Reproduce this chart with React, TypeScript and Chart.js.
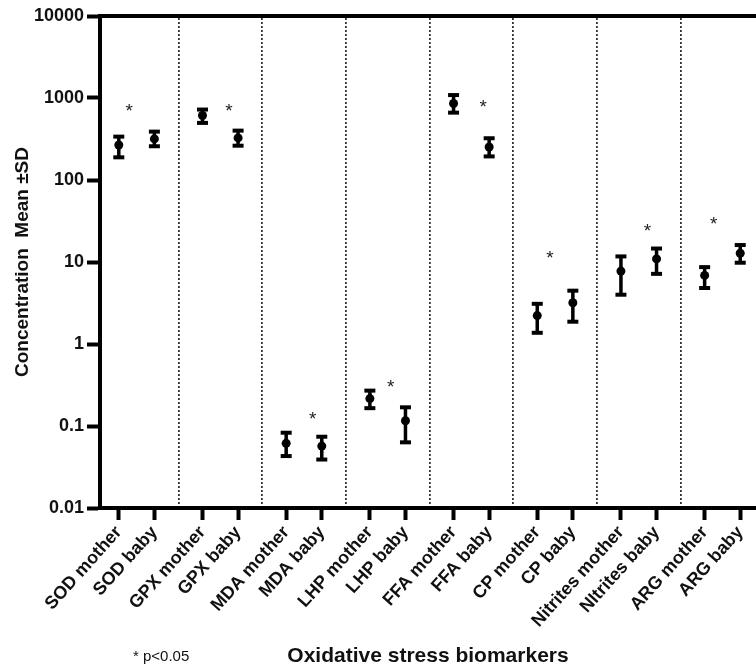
import React, { useEffect, useRef } from 'react';
import { Chart, registerables } from 'chart.js';

Chart.register(...registerables);

// ---- data ----
const CATEGORIES = [
  'SOD mother', 'SOD baby',
  'GPX mother', 'GPX baby',
  'MDA mother', 'MDA baby',
  'LHP mother', 'LHP baby',
  'FFA mother', 'FFA baby',
  'CP mother', 'CP baby',
  'Nitrites mother', 'NItrites baby',
  'ARG mother', 'ARG baby',
];
const MEANS = [267, 317, 611, 326, 0.0614, 0.0569, 0.216, 0.116, 857, 253, 2.22, 3.18, 7.74, 10.9, 6.86, 12.8];
const LOWER = [189, 258, 497, 262, 0.043, 0.039, 0.165, 0.0632, 663, 194, 1.37, 1.87, 3.99, 7.17, 4.82, 9.8];
const UPPER = [338, 389, 723, 400, 0.0828, 0.074, 0.27, 0.169, 1086, 323, 3.09, 4.47, 11.7, 14.6, 8.66, 16.1];

// significance stars (one per biomarker pair)
const STAR_VALUES = [752, 752, 0.132, 0.327, 857, 12.4, 26, 31.4];
const STAR_OFFSETS = [0.295, 0.745, 0.745, 0.585, 0.832, 0.357, 0.745, 0.254];

const Y_TICKS = [0.01, 0.1, 1, 10, 100, 1000, 10000];
const Y_TICK_LABELS = ['0.01', '0.1', '1', '10', '100', '1000', '10000'];
const Y_TITLE = 'Concentration  Mean \u00B1SD';
const X_TITLE = 'Oxidative stress biomarkers';
const FOOTNOTE = '* p<0.05';

// ---- layout helpers ----
const WIDTH = 756;
const HEIGHT = 667;
const PAIR_STRIDE = 2.351;
const X_MIN = -0.528;
const X_MAX = 17.9;
const FONT = '"Liberation Sans", Arial, Helvetica, sans-serif';

const posOf = (i: number) => Math.floor(i / 2) * PAIR_STRIDE + (i % 2);
const X_POS = CATEGORIES.map((_, i) => posOf(i));
const GROUP_COUNT = CATEGORIES.length / 2;
const SEPARATORS = Array.from({ length: GROUP_COUNT - 1 }, (_, g) => (posOf(2 * g + 1) + posOf(2 * g + 2)) / 2);

const starPlugin = {
  id: 'stars',
  afterDatasetsDraw(chart: any) {
    const { ctx, scales } = chart;
    const x = scales.x;
    const y = scales.y;
    ctx.save();
    ctx.font = `19px ${FONT}`;
    ctx.fillStyle = '#222';
    ctx.textAlign = 'center';
    ctx.textBaseline = 'middle';
    STAR_VALUES.forEach((v, g) => {
      ctx.fillText('*', x.getPixelForValue(posOf(2 * g) + STAR_OFFSETS[g]), y.getPixelForValue(v) + 4);
    });
    ctx.restore();
  },
};

const footnotePlugin = {
  id: 'footnote',
  afterDraw(chart: any) {
    const { ctx } = chart;
    ctx.save();
    ctx.font = `15px ${FONT}`;
    ctx.fillStyle = '#111';
    ctx.textAlign = 'left';
    ctx.textBaseline = 'middle';
    ctx.fillText(FOOTNOTE, 133, 657);
    ctx.restore();
  },
};

export default function App() {
  const canvasRef = useRef<HTMLCanvasElement | null>(null);

  useEffect(() => {
    if (!canvasRef.current) return;
    document.body.style.overflow = 'hidden';
    const errorData: any[] = [];
    X_POS.forEach((x, i) => {
      errorData.push({ x, y: LOWER[i] });
      errorData.push({ x, y: UPPER[i] });
      errorData.push({ x, y: null });
    });

    const chart = new Chart(canvasRef.current, {
      type: 'scatter',
      data: {
        datasets: [
          {
            type: 'scatter',
            label: 'mean',
            data: X_POS.map((x, i) => ({ x, y: MEANS[i] })),
            pointStyle: 'circle',
            pointRadius: 4.5,
            backgroundColor: '#000',
            borderColor: '#000',
            borderWidth: 0,
            order: 0,
          } as any,
          {
            type: 'line',
            label: 'sd',
            data: errorData,
            showLine: true,
            spanGaps: false,
            borderColor: '#000',
            borderWidth: 3.5,
            pointStyle: 'line',
            pointRadius: 5.5,
            pointBorderWidth: 4,
            pointBorderColor: '#000',
            pointBackgroundColor: '#000',
            tension: 0,
            order: 1,
          } as any,
        ],
      },
      options: {
        animation: false,
        responsive: false,
        maintainAspectRatio: false,
        devicePixelRatio: 1,
        events: [],
        layout: { autoPadding: false, padding: { top: 16, left: 0, right: 0, bottom: 0 } },
        plugins: {
          legend: { display: false },
          tooltip: { enabled: false },
          title: { display: false },
        },
        scales: {
          x: {
            type: 'linear',
            position: 'bottom',
            min: X_MIN,
            max: X_MAX,
            afterBuildTicks: (scale: any) => {
              scale.ticks = X_POS.map((v) => ({ value: v }));
            },
            afterFit: (scale: any) => {
              scale.height = 159;
              scale.paddingLeft = 0;
              scale.paddingRight = 0;
            },
            ticks: {
              autoSkip: false,
              minRotation: 48,
              maxRotation: 48,
              padding: 2,
              color: '#111',
              font: { family: FONT, size: 18, weight: 'bold' },
              callback: (_v: any, index: number) => CATEGORIES[index],
            },
            grid: {
              drawOnChartArea: false,
              drawTicks: true,
              tickLength: 12,
              tickWidth: 4,
              tickColor: '#000',
            },
            border: { display: true, width: 4, color: '#000' },
            title: {
              display: true,
              text: X_TITLE,
              color: '#111',
              font: { family: FONT, size: 21, weight: 'bold', lineHeight: 1 },
              padding: { top: 0, bottom: 0 },
            },
          },
          x2: {
            type: 'linear',
            position: 'top',
            min: X_MIN,
            max: X_MAX,
            afterBuildTicks: (scale: any) => {
              scale.ticks = SEPARATORS.map((v) => ({ value: v }));
            },
            afterFit: (scale: any) => {
              scale.height = 0;
              scale.paddingLeft = 0;
              scale.paddingRight = 0;
            },
            ticks: { display: false },
            grid: {
              drawOnChartArea: true,
              drawTicks: false,
              color: '#333',
              lineWidth: 1.8,
            },
            border: { display: true, width: 4, color: '#000', dash: [2, 2] },
          },
          y: {
            type: 'logarithmic',
            min: 0.01,
            max: 10000,
            afterBuildTicks: (scale: any) => {
              scale.ticks = Y_TICKS.map((v) => ({ value: v }));
            },
            afterFit: (scale: any) => {
              scale.width = 100;
            },
            ticks: {
              padding: 3,
              color: '#111',
              font: { family: FONT, size: 18, weight: 'bold' },
              callback: (_v: any, index: number) => Y_TICK_LABELS[index],
            },
            grid: {
              drawOnChartArea: false,
              drawTicks: true,
              tickLength: 13,
              tickWidth: 4,
              tickColor: '#000',
            },
            border: { display: true, width: 4, color: '#000' },
            title: {
              display: true,
              text: Y_TITLE,
              color: '#111',
              font: { family: FONT, size: 19, weight: 'bold', lineHeight: 1 },
              padding: { top: 13, bottom: 0 },
            },
          },
        },
      } as any,
      plugins: [starPlugin, footnotePlugin],
    });

    return () => chart.destroy();
  }, []);

  return (
    <div style={{ position: 'absolute', left: 0, top: 0, width: WIDTH, height: HEIGHT, background: '#fff', overflow: 'hidden' }}>
      <canvas ref={canvasRef} width={WIDTH} height={HEIGHT} style={{ display: 'block', width: WIDTH, height: HEIGHT }} />
    </div>
  );
}
